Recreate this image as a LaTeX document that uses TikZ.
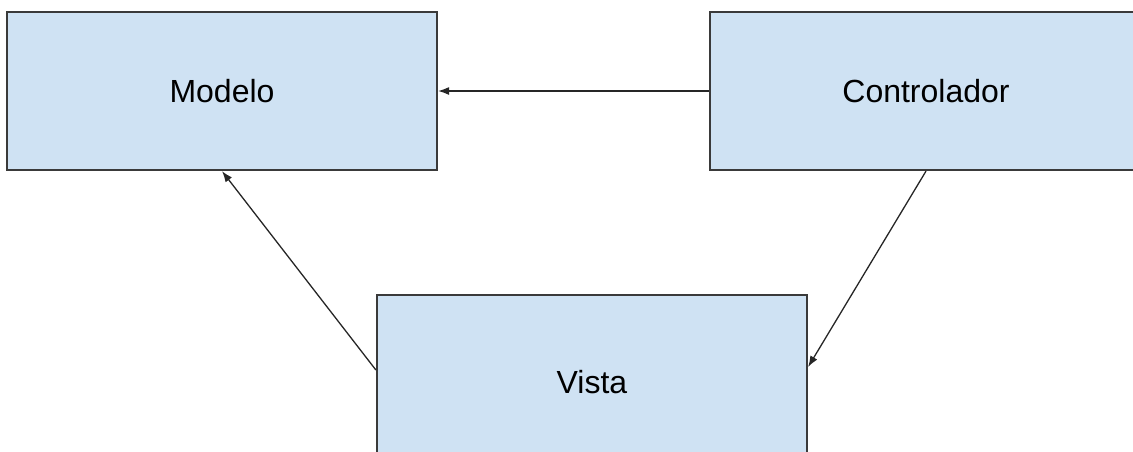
\documentclass[tikz,border=0pt]{standalone}
\usepackage{fontspec}
\setmainfont{Liberation Sans}
\usetikzlibrary{arrows.meta}
\definecolor{boxfill}{HTML}{CFE2F3}
\definecolor{boxline}{HTML}{3A3A3A}
\begin{document}
\begin{tikzpicture}[x=1pt,y=-1pt,
  box/.style={draw=boxline, line width=2.2pt, fill=boxfill, inner sep=0pt,
    minimum width=430pt, minimum height=158pt,
    font=\fontsize{32}{38}\selectfont},
  link/.style={draw=black!85, line width=1.3pt,
    -{Latex[length=11pt,width=8pt]}}]
  \useasboundingbox (0,0) rectangle (1133,451);
  \clip (0,0) rectangle (1133,451);
  \node[box] (modelo) at (222,91) {Modelo};
  \node[box, minimum width=432pt] (ctrl) at (926,91) {Controlador};
  \node[box, minimum height=174pt] (vista) at (592,382) {Vista};
  \draw[link] (ctrl.west) -- (modelo.east);
  \draw[link] ([yshift=12pt]vista.west) -- (modelo.south);
  \draw[link] (ctrl.south) -- ([yshift=15pt]vista.east);
\end{tikzpicture}
\end{document}
